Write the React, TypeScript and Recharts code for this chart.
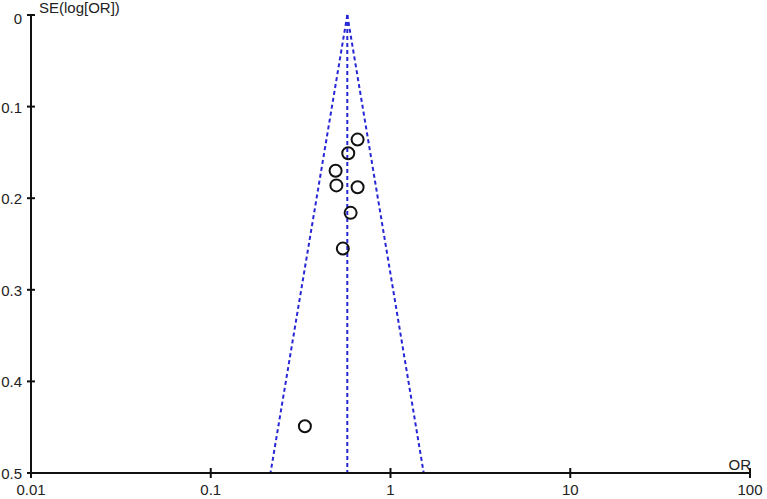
import { ScatterChart, Scatter, XAxis, YAxis, ReferenceLine } from 'recharts';

// study estimates
const orValues = [0.656, 0.582, 0.495, 0.5, 0.656, 0.6, 0.543, 0.334];
const seValues = [0.136, 0.151, 0.17, 0.186, 0.188, 0.216, 0.255, 0.449];

// pooled estimate and funnel limits (at SE = 0.5)
const pooledOR = 0.575;
const funnelSE = 0.5;
const funnelLower = 0.215;
const funnelUpper = 1.53;

const xTicks = [0.01, 0.1, 1, 10, 100];
const xTickLabels = ['0.01', '0.1', '1', '10', '100'];
const yTicks = [0, 0.1, 0.2, 0.3, 0.4, 0.5];
const yTickLabels = ['0', '0.1', '0.2', '0.3', '0.4', '0.5'];

const AXIS = '#111';
const FUNNEL = '#2626d4';
const FONT = 15;

const studies = orValues.map((or, i) => ({ or, se: seValues[i] }));

const XTick = ({ x, y, payload, index }: any) => (
  <g>
    <rect x={x - 1} y={y - 5} width={2} height={10} fill={AXIS} />
    <text x={x} y={y + 22} textAnchor="middle" fill="#222" fontSize={FONT}>
      {xTickLabels[xTicks.indexOf(payload.value)] ?? xTickLabels[index]}
    </text>
  </g>
);

const YTick = ({ x, y, payload, index }: any) => (
  <g>
    <rect x={x - 4} y={y - 1} width={8} height={2} fill={AXIS} />
    <text x={x - 9} y={y + 6 + (index === 0 ? 3 : 0)} textAnchor="end" fill="#222" fontSize={FONT}>
      {yTickLabels[yTicks.indexOf(payload.value)] ?? yTickLabels[index]}
    </text>
  </g>
);

const Ring = ({ cx, cy }: any) => (
  <circle cx={cx} cy={cy} r={6} fill="none" stroke="#111" strokeWidth={2} />
);

const dash = { stroke: FUNNEL, strokeWidth: 2, strokeDasharray: '4 3', ifOverflow: 'visible' as const };

export default function App() {
  return (
    <div style={{ width: 767, height: 499, background: '#fff', fontFamily: '"Liberation Sans", Arial, sans-serif' }}>
      <style>{'body{margin:0}'}</style>
      <ScatterChart width={767} height={499} margin={{ top: 15, right: 17, left: 0, bottom: 0 }}>
        <XAxis
          dataKey="or"
          type="number"
          scale="log"
          domain={[0.01, 100]}
          ticks={xTicks}
          allowDataOverflow
          height={26}
          tickSize={0}
          tickMargin={0}
          tick={<XTick />}
          tickLine={false}
          axisLine={{ stroke: AXIS, strokeWidth: 2 }}
          label={({ viewBox }: any) => (
            <text x={viewBox.x + viewBox.width + 1} y={viewBox.y - 3} textAnchor="end" fill="#222" fontSize={FONT}>
              OR
            </text>
          )}
        />
        <YAxis
          dataKey="se"
          type="number"
          reversed
          domain={[0, 0.5]}
          ticks={yTicks}
          width={31}
          tickSize={0}
          tickMargin={0}
          tick={<YTick />}
          tickLine={false}
          axisLine={{ stroke: AXIS, strokeWidth: 2 }}
          label={({ viewBox }: any) => (
            <text x={viewBox.x + viewBox.width + 8} y={viewBox.y - 2} fill="#222" fontSize={FONT}>
              SE(log[OR])
            </text>
          )}
        />
        <ReferenceLine segment={[{ x: pooledOR, y: 0 }, { x: pooledOR, y: funnelSE }]} {...dash} />
        <ReferenceLine segment={[{ x: pooledOR, y: 0 }, { x: funnelLower, y: funnelSE }]} {...dash} />
        <ReferenceLine segment={[{ x: pooledOR, y: 0 }, { x: funnelUpper, y: funnelSE }]} {...dash} />
        <Scatter data={studies} shape={<Ring />} isAnimationActive={false} />
      </ScatterChart>
    </div>
  );
}
